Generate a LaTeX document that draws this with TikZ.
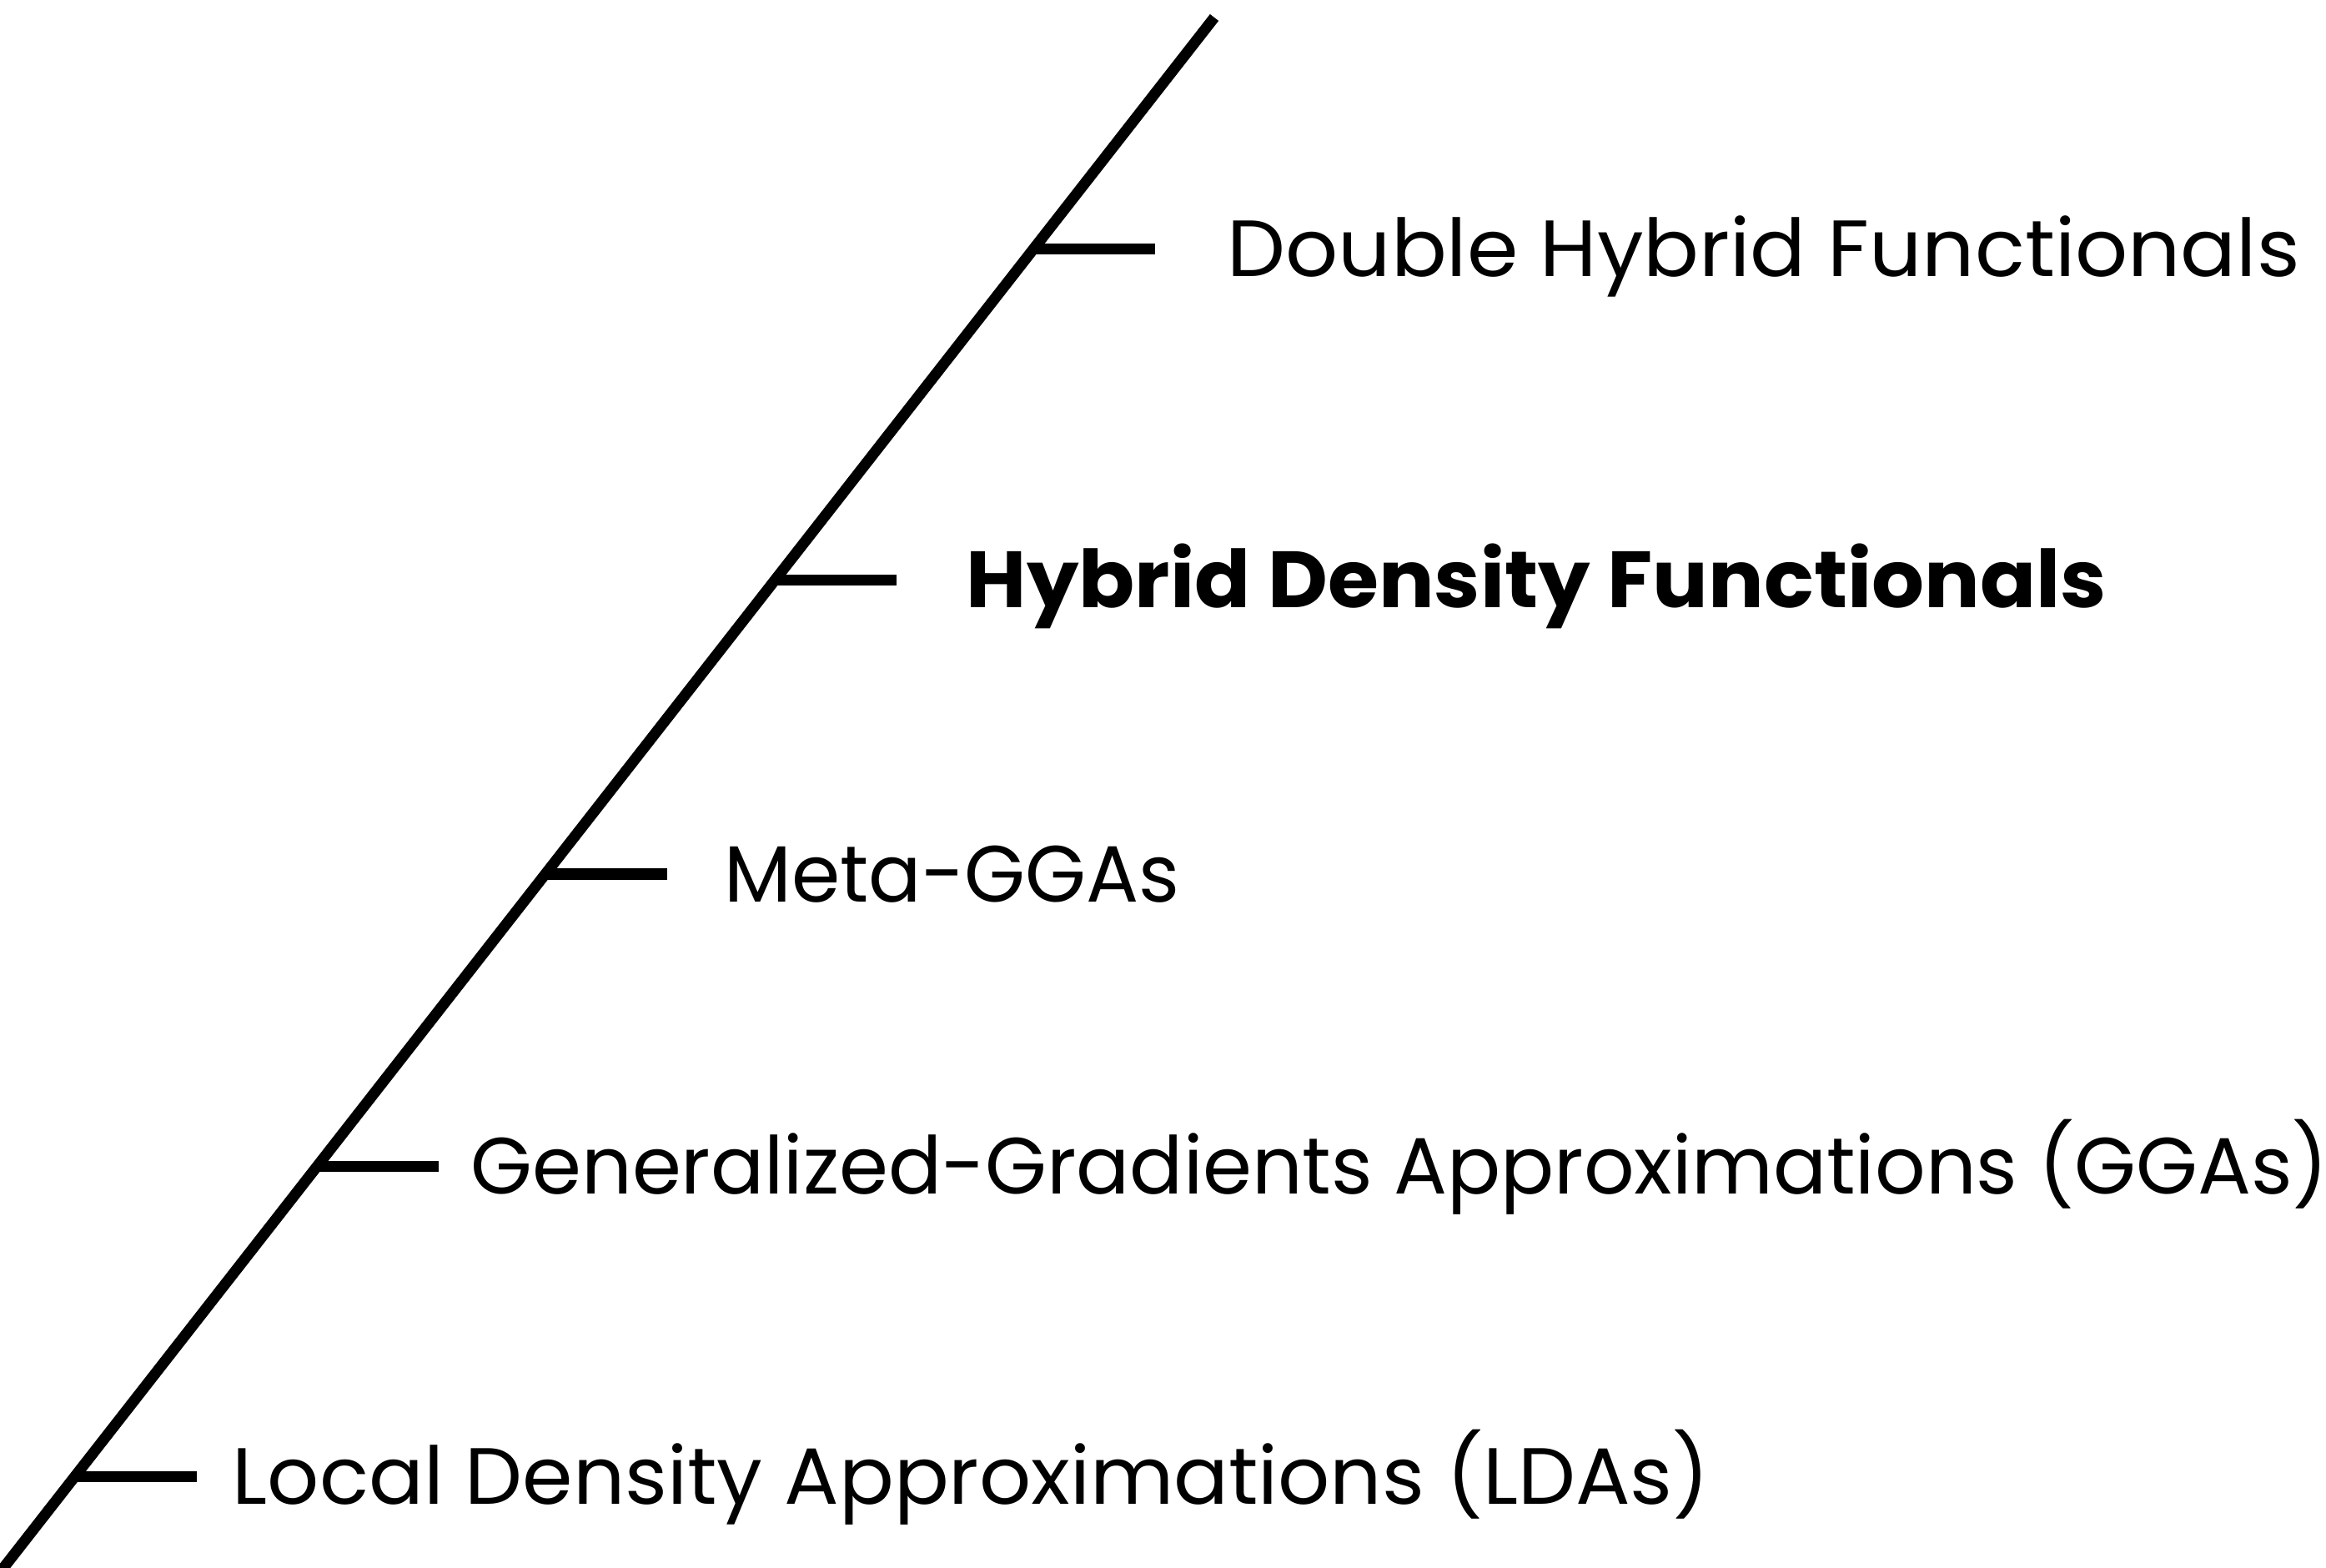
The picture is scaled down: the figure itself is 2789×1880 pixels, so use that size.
\documentclass[tikz,border=0pt]{standalone}
\usepackage{fontspec}
\setmainfont{Poppins}
\tikzset{
  every picture/.style={font={\fontsize{27.2pt}{32pt}\selectfont}}}
\newcommand{\widen}[2]{\scalebox{#1}[1]{#2}}

\begin{document}
\begin{tikzpicture}[x=0.01cm, y=-0.01cm]
    \tikzstyle{rung}=[line width=0.13cm]
    \tikzstyle{level}=[anchor=base west, inner sep=0pt]

    \useasboundingbox (0,0) rectangle (2789,1880);

    % the ladder itself
    \coordinate (B) at (-10,1898);
    \coordinate (T) at (1456,21);
    \draw[rung] (B) -- (T);

    \begin{scope}
      \coordinate (A1) at (90,1770);
      \coordinate (A2) at (380,1398);
      \coordinate (A3) at (654,1048);
      \coordinate (A4) at (929,696);
      \coordinate (A5) at (1239,299);

      \coordinate (E1) at (236,1770);
      \coordinate (E2) at (526,1398);
      \coordinate (E3) at (800,1048);
      \coordinate (E4) at (1075,696);
      \coordinate (E5) at (1385,299);
    \end{scope}

    \begin{scope}
      \draw[rung] (A1) -- (E1);
      \draw[rung] (A2) -- (E2);
      \draw[rung] (A3) -- (E3);
      \draw[rung] (A4) -- (E4);
      \draw[rung] (A5) -- (E5);
    \end{scope}

    \node[level] (LDA)    at (278,1803) {\widen{1.018}{Local Density Approximations (LDAs)}};
    \node[level] (GGA)    at (564,1431) {\widen{0.992}{Generalized-Gradients Approximations (GGAs)}};
    \node[level] (META)   at (868,1081) {\widen{0.98}{Meta-GGAs}};
    \node[level] (HYB)    at (1158,729) {\widen{1.034}{\bfseries Hybrid Density Functionals}};
    \node[level] (DOUBLE) at (1471,332) {\widen{1.033}{Double Hybrid Functionals}};
  \end{tikzpicture}
\end{document}
